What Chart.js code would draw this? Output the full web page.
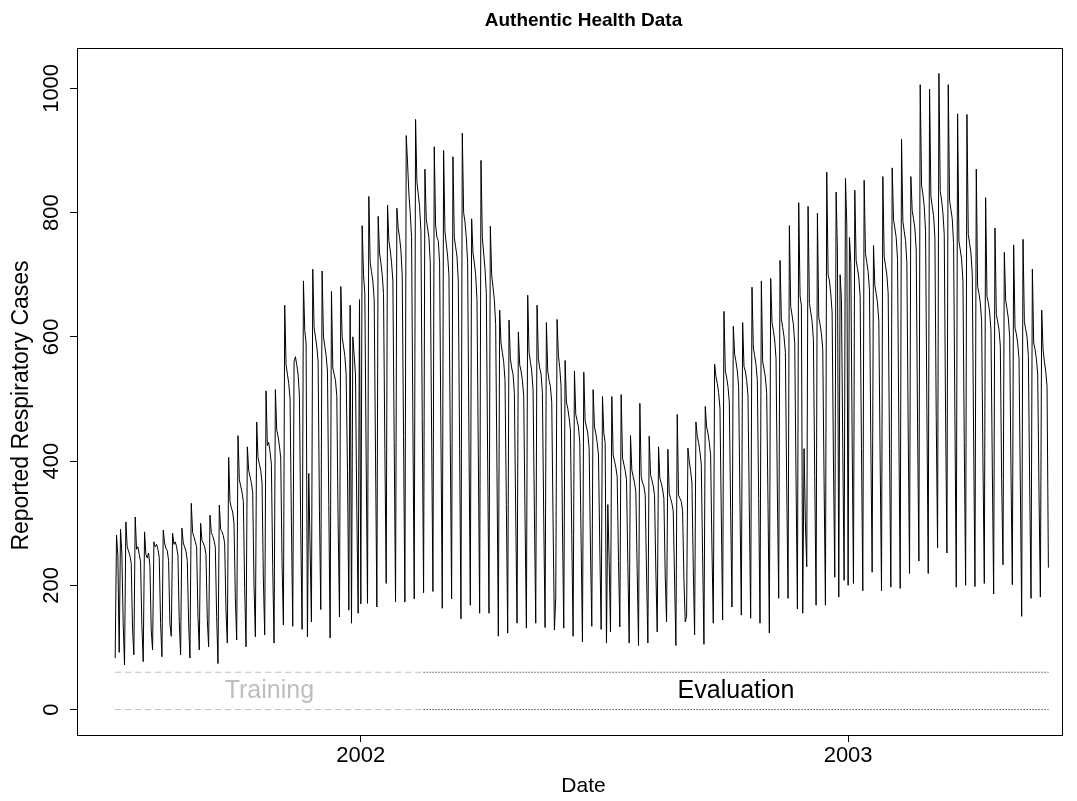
<!DOCTYPE html>
<html>
<head>
<meta charset="utf-8">
<title>Authentic Health Data</title>
<script src="https://cdn.jsdelivr.net/npm/chart.js@4.4.1/dist/chart.umd.min.js"></script>
<style>
  html, body { margin: 0; padding: 0; background: #ffffff; }
  #wrap { width: 1077px; height: 801px; }
</style>
</head>
<body>
<div id="wrap"><canvas id="chart" width="1077" height="801"></canvas></div>
<script>
/* =========================================
   DATA
   -----------------------------------------
   Daily reported respiratory cases, one row
   per week (Sun .. Sat), starting Sun 1 Jul 2001
========================================= */
const cases = [
    83, 281, 248,  92, 290, 252, 138,
    72, 302, 262, 255, 248, 236, 130,
    88, 310, 258, 262, 250, 238, 135,
    77, 286, 250, 244, 252, 232, 128,
    96, 270, 262, 266, 258, 245, 140,
    85, 289, 268, 260, 256, 240, 138,
   118, 284, 266, 270, 262, 248, 142,
    88, 292, 268, 262, 255, 240, 140,
    83, 332, 285, 278, 270, 262, 150,
    96, 300, 272, 268, 262, 250, 145,
   101, 313, 285, 280, 272, 262, 150,
    74, 329, 290, 286, 280, 268, 160,
   107, 406, 335, 325, 318, 300, 180,
   112, 441, 370, 360, 350, 335, 195,
   101, 423, 385, 375, 365, 350, 200,
   117, 463, 405, 395, 385, 365, 210,
   120, 513, 425, 430, 415, 395, 230,
   107, 515, 450, 440, 425, 405, 235,
   136, 651, 555, 540, 525, 500, 300,
   134, 560, 568, 555, 540, 505, 290,
   129, 690, 610, 590, 117, 380, 260,
   141, 709, 615, 600, 585, 560, 320,
   161, 706, 600, 585, 570, 545, 330,
   115, 673, 550, 540, 530, 505, 300,
   149, 681, 600, 585, 570, 540, 385,
   160, 651, 139, 600, 570, 540, 320,
   155, 660, 170, 779, 700, 670, 400,
   171, 826, 720, 705, 690, 660, 410,
   165, 794, 735, 720, 700, 670, 420,
   203, 812, 755, 740, 720, 690, 430,
   173, 807, 775, 760, 740, 700, 440,
   173, 924, 880, 830, 800, 760, 460,
   178, 950, 850, 830, 810, 770, 470,
   188, 870, 790, 775, 760, 720, 450,
   190, 906, 780, 760, 755, 720, 440,
   163, 900, 770, 750, 730, 700, 430,
   178, 890, 760, 745, 730, 690, 420,
   146, 928, 800, 785, 760, 720, 430,
   168, 790, 735, 720, 700, 660, 410,
   155, 884, 760, 735, 710, 670, 400,
   155, 778, 700, 680, 660, 620, 380,
   118, 643, 590, 575, 560, 530, 330,
   123, 627, 565, 550, 540, 510, 320,
   139, 608, 555, 545, 530, 505, 310,
   131, 667, 575, 560, 545, 515, 320,
   139, 651, 565, 550, 540, 510, 310,
   132, 623, 545, 530, 520, 495, 300,
   128, 180, 628, 570, 550, 520, 300,
   131, 562, 495, 485, 470, 450, 280,
   118, 545, 475, 465, 455, 430, 270,
   109, 543, 465, 455, 445, 420, 260,
   134, 515, 455, 445, 430, 410, 260,
   129, 504, 445, 430, 107, 330, 240,
   125, 504, 410, 400, 390, 375, 240,
   133, 507, 405, 395, 385, 370, 235,
   107, 441, 385, 375, 365, 350, 225,
   103, 493, 375, 365, 360, 345, 220,
   107, 440, 378, 370, 360, 345, 220,
   125, 423, 372, 365, 355, 340, 215,
   141, 419, 348, 340, 332, 320, 210,
   103, 475, 345, 340, 335, 320, 210,
   141, 150, 421, 400, 385, 365, 230,
   120, 463, 440, 430, 415, 395, 250,
   105, 488, 455, 445, 430, 410, 260,
   139, 556, 536, 525, 510, 485, 313,
   144, 641, 545, 535, 520, 495, 320,
   165, 617, 572, 560, 545, 520, 330,
   152, 623, 552, 545, 530, 505, 320,
   147, 680, 582, 570, 555, 530, 340,
   139, 690, 560, 548, 535, 510, 330,
   123, 694, 623, 610, 595, 565, 350,
   179, 723, 629, 615, 600, 575, 360,
   179, 779, 649, 635, 620, 590, 370,
   162, 816, 666, 650, 155, 420, 300,
   230, 810, 654, 640, 625, 595, 375,
   168, 799, 631, 620, 605, 580, 365,
   168, 865, 700, 690, 670, 640, 400,
   213, 833, 735, 181, 700, 660, 420,
   208, 855, 780, 200, 760, 720, 440,
   203, 836, 723, 710, 695, 665, 420,
   191, 852, 734, 720, 705, 675, 430,
   221, 747, 683, 670, 655, 625, 400,
   191, 858, 729, 715, 700, 670, 420,
   197, 872, 789, 775, 760, 725, 450,
   195, 918, 786, 770, 755, 720, 450,
   219, 858, 803, 790, 775, 740, 460,
   239, 1006, 844, 830, 810, 770, 480,
   219, 999, 826, 810, 795, 760, 470,
   260, 1024, 834, 820, 800, 765, 475,
   252, 1006, 820, 805, 790, 750, 470,
   197, 959, 754, 740, 725, 690, 430,
   200, 958, 765, 750, 735, 700, 440,
   198, 870, 681, 670, 655, 625, 400,
   203, 824, 665, 655, 640, 610, 390,
   186, 775, 636, 625, 612, 585, 370,
   233, 736, 659, 645, 630, 600, 380,
   201, 748, 614, 605, 590, 565, 360,
   150, 757, 625, 612, 600, 570, 360,
   179, 709, 590, 580, 565, 540, 345,
   181, 643, 580, 560, 545, 520, 229
];

const xTickLabels = ["2002", "2003"];   // 1 Jan of each year
const xTickDays   = [184, 549];         // days after Sun 1 Jul 2001
const yTickValues = [0, 200, 400, 600, 800, 1000];

const periodNames = ["Training", "Evaluation"];
const periodStart = [0, 231];
const periodEnd   = [231, 699];
const periodRuleY = [0, 60];

/* =========================================
   DATASETS
========================================= */
const FONT = "'Liberation Sans', Arial, Helvetica, sans-serif";

const datasets = [{
    data: cases.map((v, i) => ({ x: i, y: v })),
    borderColor: "#000000",
    borderWidth: 1,
    pointRadius: 0,
    borderJoinStyle: "round",
    borderCapStyle: "round",
    tension: 0
}];

// period rules: grey dashed for training, black dotted for evaluation
periodNames.forEach((name, p) => {
    periodRuleY.forEach(y => {
        datasets.push({
            data: [{ x: periodStart[p], y: y }, { x: periodEnd[p], y: y }],
            borderColor: p === 0 ? "#bebebe" : "#000000",
            borderDash: p === 0 ? [6, 4] : [1, 2],
            borderWidth: 1,
            pointRadius: 0
        });
    });
});

/* =========================================
   EXTRA DRAWING: titles, plot box, period labels
========================================= */
const decorations = {
    id: "decorations",
    afterDraw(chart) {
        const ctx = chart.ctx;
        const area = chart.chartArea;
        const xs = chart.scales.x, ys = chart.scales.y;
        ctx.save();

        // plot box
        ctx.strokeStyle = "#000000";
        ctx.lineWidth = 1;
        ctx.strokeRect(Math.round(area.left) + 0.5, Math.round(area.top) + 0.5,
                       Math.round(area.right - area.left), Math.round(area.bottom - area.top));

        // main title, x label and y label (placed as in the source image)
        const cx = (area.left + area.right) / 2 + 14;
        const cy = (area.top + area.bottom) / 2 + 14;
        ctx.fillStyle = "#000000";
        ctx.textAlign = "center";
        ctx.textBaseline = "middle";
        ctx.font = "bold 19px " + FONT;
        ctx.fillText("Authentic Health Data", cx, 21);
        ctx.font = "21px " + FONT;
        ctx.fillText("Date", cx, 786);

        ctx.save();
        ctx.translate(22, cy);
        ctx.rotate(-Math.PI / 2);
        ctx.font = "23px " + FONT;
        ctx.fillText("Reported Respiratory Cases", 0, 0);
        ctx.restore();

        // period labels, midway between the two rules
        ctx.font = "25px " + FONT;
        const midY = (periodRuleY[0] + periodRuleY[1]) / 2;
        periodNames.forEach((name, p) => {
            ctx.fillStyle = p === 0 ? "#bebebe" : "#000000";
            ctx.fillText(name,
                xs.getPixelForValue((periodStart[p] + periodEnd[p]) / 2),
                ys.getPixelForValue(midY));
        });
        ctx.restore();
    }
};

new Chart(document.getElementById("chart"), {
    type: "line",
    data: { datasets: datasets },
    plugins: [decorations],
    options: {
        responsive: false,
        animation: false,
        devicePixelRatio: 1,
        layout: { padding: { top: 48, right: 15, left: 0, bottom: 0 } },
        plugins: {
            legend: { display: false },
            tooltip: { enabled: false },
            title: { display: false }
        },
        scales: {
            x: {
                type: "linear",
                min: -28.6,
                max: 709.2,
                afterBuildTicks: s => { s.ticks = xTickDays.map(v => ({ value: v })); },
                afterFit: s => { s.height = 66; },
                ticks: {
                    autoSkip: false, maxRotation: 0, minRotation: 0,
                    color: "#000000", padding: 1,
                    font: { family: FONT, size: 22 },
                    callback: (v, i) => xTickLabels[i]
                },
                grid: { drawOnChartArea: false, drawTicks: true, tickLength: 7, color: "#000000" },
                border: { display: false },
                title: { display: false }
            },
            y: {
                min: -41,
                max: 1065,
                afterBuildTicks: s => { s.ticks = yTickValues.map(v => ({ value: v })); },
                afterFit: s => { s.width = 77; },
                ticks: {
                    autoSkip: false, minRotation: 90, maxRotation: 90,
                    crossAlign: "center", padding: -6,
                    color: "#000000",
                    font: { family: FONT, size: 22 },
                    callback: v => String(v)
                },
                grid: { drawOnChartArea: false, drawTicks: true, tickLength: 7, color: "#000000" },
                border: { display: false },
                title: { display: false }
            }
        }
    }
});
</script>
</body>
</html>
